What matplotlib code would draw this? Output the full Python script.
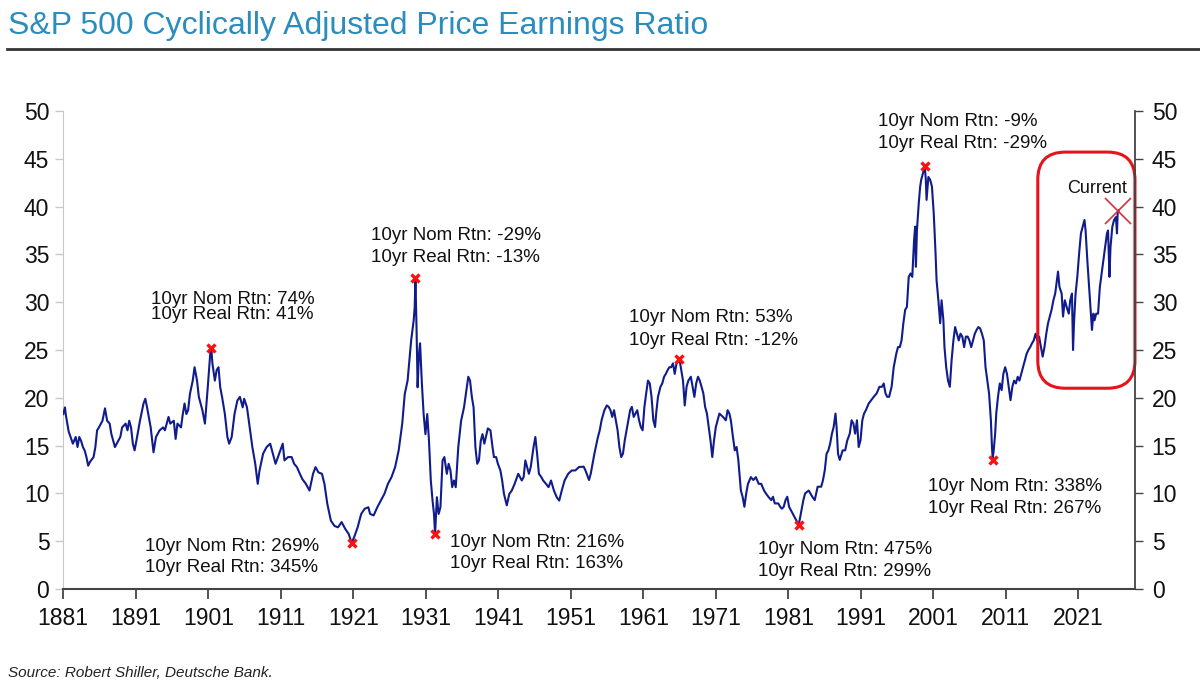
import matplotlib
matplotlib.use('Agg')
import matplotlib.pyplot as plt
from matplotlib.patches import FancyBboxPatch
import numpy as np

plt.rcParams['font.family'] = ['Liberation Sans', 'DejaVu Sans']

# CAPE series (year, ratio)
years = [
    1881.0, 1881.24, 1881.34, 1881.74, 1882.33, 1882.72, 1882.97, 1883.21, 1883.46, 1883.71,
    1883.95, 1884.2, 1884.44, 1884.69, 1885.18, 1885.43, 1885.67, 1885.92, 1886.41, 1886.76,
    1887.05, 1887.4, 1887.64, 1888.13, 1888.38, 1888.87, 1889.12, 1889.61, 1889.86, 1890.1,
    1890.35, 1890.6, 1890.84, 1891.09, 1891.58, 1892.07, 1892.32, 1892.56, 1893.06, 1893.45,
    1893.79, 1894.29, 1894.78, 1895.02, 1895.52, 1895.76, 1896.25, 1896.5, 1896.75, 1897.24,
    1897.49, 1897.73, 1897.98, 1898.22, 1898.47, 1898.86, 1899.11, 1899.45, 1899.7, 1900.19,
    1900.54, 1900.93, 1901.27, 1901.42, 1901.57, 1901.91, 1902.16, 1902.41, 1902.65, 1902.9,
    1903.29, 1903.64, 1903.88, 1904.23, 1904.62, 1905.01, 1905.36, 1905.75, 1905.95, 1906.34,
    1906.59, 1907.08, 1907.48, 1907.82, 1908.07, 1908.56, 1909.05, 1909.54, 1910.03, 1910.28,
    1910.77, 1911.27, 1911.51, 1912.0, 1912.5, 1912.84, 1913.23, 1913.63, 1913.97, 1914.46,
    1914.96, 1915.45, 1915.79, 1916.19, 1916.68, 1917.02, 1917.42, 1917.91, 1918.4, 1918.89,
    1919.39, 1919.88, 1920.37, 1920.76, 1921.11, 1921.6, 1922.09, 1922.58, 1923.08, 1923.32,
    1923.81, 1924.31, 1924.8, 1925.29, 1925.78, 1926.27, 1926.77, 1927.26, 1927.75, 1928.1,
    1928.49, 1928.98, 1929.33, 1929.47, 1929.57, 1929.72, 1929.87, 1930.06, 1930.21, 1930.46,
    1930.7, 1930.95, 1931.2, 1931.44, 1931.69, 1931.93, 1932.13, 1932.28, 1932.53, 1932.77,
    1933.02, 1933.31, 1933.56, 1933.9, 1934.15, 1934.4, 1934.64, 1934.89, 1935.13, 1935.48,
    1935.87, 1936.27, 1936.61, 1936.86, 1937.1, 1937.35, 1937.59, 1937.84, 1938.09, 1938.33,
    1938.58, 1938.82, 1939.07, 1939.56, 1939.91, 1940.2, 1940.4, 1940.7, 1940.94, 1941.29,
    1941.53, 1941.78, 1942.17, 1942.52, 1942.86, 1943.25, 1943.75, 1944.24, 1944.49, 1944.73,
    1945.22, 1945.47, 1945.86, 1946.11, 1946.35, 1946.6, 1946.94, 1947.19, 1947.58, 1947.93,
    1948.27, 1948.67, 1949.06, 1949.4, 1949.75, 1950.14, 1950.64, 1951.13, 1951.62, 1952.11,
    1952.77, 1953.02, 1953.51, 1953.76, 1954.25, 1954.74, 1954.99, 1955.24, 1955.63, 1955.97,
    1956.22, 1956.47, 1956.71, 1956.96, 1957.21, 1957.45, 1957.7, 1957.95, 1958.19, 1958.44,
    1958.93, 1959.18, 1959.42, 1959.67, 1959.92, 1960.16, 1960.41, 1960.65, 1960.9, 1961.15,
    1961.39, 1961.64, 1961.89, 1962.13, 1962.38, 1962.62, 1962.77, 1963.02, 1963.36, 1963.61,
    1963.86, 1964.1, 1964.35, 1964.6, 1964.84, 1965.09, 1965.33, 1965.58, 1965.83, 1965.97,
    1966.17, 1966.47, 1966.71, 1966.96, 1967.21, 1967.55, 1967.8, 1968.04, 1968.29, 1968.54,
    1968.78, 1969.03, 1969.28, 1969.52, 1969.77, 1970.01, 1970.26, 1970.51, 1970.75, 1971.0,
    1971.25, 1971.49, 1971.98, 1972.38, 1972.62, 1972.87, 1973.07, 1973.36, 1973.61, 1973.86,
    1974.1, 1974.45, 1974.69, 1974.94, 1975.19, 1975.43, 1975.83, 1976.17, 1976.52, 1976.91,
    1977.26, 1977.65, 1977.9, 1978.24, 1978.64, 1978.88, 1979.13, 1979.62, 1979.87, 1980.11,
    1980.36, 1980.61, 1980.85, 1981.1, 1981.34, 1981.59, 1981.84, 1982.08, 1982.43, 1982.72,
    1983.07, 1983.31, 1983.81, 1984.3, 1984.64, 1985.04, 1985.53, 1985.78, 1986.02, 1986.27,
    1986.52, 1986.76, 1987.01, 1987.25, 1987.5, 1987.65, 1987.85, 1988.09, 1988.49, 1988.83,
    1989.13, 1989.47, 1989.72, 1989.97, 1990.21, 1990.46, 1990.7, 1990.95, 1991.2, 1991.44,
    1991.69, 1992.08, 1992.43, 1992.77, 1993.17, 1993.56, 1993.91, 1994.15, 1994.4, 1994.64,
    1994.89, 1995.24, 1995.53, 1995.88, 1996.12, 1996.37, 1996.61, 1996.86, 1997.11, 1997.35,
    1997.6, 1997.85, 1998.09, 1998.34, 1998.49, 1998.59, 1998.73, 1998.98, 1999.18, 1999.32,
    1999.57, 1999.82, 1999.96, 2000.06, 2000.31, 2000.56, 2000.8, 2001.05, 2001.3, 2001.44,
    2001.69, 2001.94, 2002.13, 2002.38, 2002.53, 2002.77, 2003.02, 2003.27, 2003.51, 2003.76,
    2004.0, 2004.25, 2004.5, 2004.74, 2004.99, 2005.24, 2005.48, 2005.73, 2005.97, 2006.22,
    2006.47, 2006.71, 2006.96, 2007.21, 2007.45, 2007.7, 2007.95, 2008.19, 2008.44, 2008.68,
    2008.93, 2009.08, 2009.18, 2009.32, 2009.52, 2009.67, 2009.91, 2010.16, 2010.41, 2010.65,
    2010.9, 2011.15, 2011.39, 2011.64, 2011.89, 2012.13, 2012.38, 2012.63, 2012.87, 2013.12,
    2013.36, 2013.61, 2013.86, 2014.1, 2014.35, 2014.6, 2014.84, 2015.09, 2015.33, 2015.58,
    2015.83, 2016.07, 2016.32, 2016.57, 2016.81, 2017.06, 2017.3, 2017.55, 2017.8, 2018.04,
    2018.19, 2018.39, 2018.69, 2018.88, 2019.13, 2019.38, 2019.67, 2019.87, 2020.11, 2020.26,
    2020.41, 2020.61, 2020.85, 2021.1, 2021.35, 2021.59, 2021.84, 2021.99, 2022.23, 2022.48,
    2022.72, 2022.87, 2023.07, 2023.22, 2023.46, 2023.71, 2023.96, 2024.2, 2024.45, 2024.69,
    2024.94, 2025.09, 2025.28, 2025.43, 2025.68, 2025.92, 2026.17, 2026.32, 2026.41, 2026.56,
]
cape = [
    18.3, 19.0, 18.3, 16.5, 15.2, 15.9, 14.85, 15.9, 15.5, 14.85,
    14.5, 13.8, 12.9, 13.3, 13.8, 14.85, 16.6, 16.9, 17.6, 18.9,
    17.6, 17.3, 16.2, 14.85, 15.2, 15.9, 16.9, 17.3, 16.6, 17.6,
    16.9, 15.2, 14.5, 15.5, 17.6, 19.4, 19.9, 19.0, 16.9, 14.3,
    15.9, 16.6, 16.9, 16.6, 18.0, 17.3, 17.6, 15.7, 17.3, 16.9,
    18.3, 19.4, 18.3, 18.7, 20.4, 21.8, 23.2, 21.8, 20.1, 18.7,
    17.3, 21.1, 24.6, 25.2, 23.6, 21.8, 22.9, 23.2, 21.1, 20.1,
    18.3, 15.9, 15.2, 15.9, 18.3, 19.7, 20.1, 19.0, 19.9, 19.0,
    17.6, 14.85, 13.1, 11.0, 12.4, 14.15, 14.85, 15.2, 13.8, 13.1,
    14.15, 15.2, 13.45, 13.8, 13.8, 13.1, 12.75, 12.05, 11.5, 11.0,
    10.3, 12.05, 12.75, 12.2, 12.05, 11.0, 8.9, 7.15, 6.6, 6.45,
    7.0, 6.3, 5.75, 4.85, 5.4, 6.45, 7.85, 8.4, 8.55, 7.85,
    7.7, 8.55, 9.25, 9.95, 11.0, 11.7, 12.75, 14.5, 17.3, 20.4,
    21.8, 26.0, 28.1, 29.5, 32.5, 27.4, 21.1, 24.6, 25.7, 21.5,
    18.3, 16.2, 18.3, 15.5, 11.35, 9.25, 7.85, 5.75, 9.6, 7.85,
    8.55, 13.45, 13.8, 12.05, 13.1, 12.4, 10.65, 11.35, 10.65, 14.85,
    17.6, 19.0, 20.8, 22.2, 21.8, 20.1, 19.0, 14.85, 13.1, 13.45,
    15.5, 16.2, 15.2, 16.8, 16.6, 14.85, 13.8, 13.8, 13.1, 12.4,
    11.35, 9.95, 8.75, 9.95, 10.3, 11.0, 12.05, 11.35, 11.7, 13.45,
    12.05, 12.75, 14.85, 15.9, 14.15, 12.05, 11.7, 11.35, 11.0, 10.65,
    11.35, 10.3, 9.6, 9.25, 10.3, 11.35, 12.05, 12.4, 12.4, 12.75,
    12.8, 12.4, 11.4, 12.1, 14.15, 15.9, 16.6, 17.65, 18.7, 19.2,
    19.05, 18.7, 18.0, 18.7, 17.65, 16.6, 14.85, 13.8, 14.15, 15.55,
    17.65, 18.7, 19.05, 18.0, 18.35, 18.7, 17.65, 16.95, 16.6, 19.05,
    20.45, 21.8, 21.5, 20.1, 17.65, 16.95, 18.35, 20.1, 21.15, 21.5,
    22.2, 22.5, 22.9, 23.2, 23.2, 23.6, 22.5, 23.6, 23.8, 24.1,
    23.2, 21.8, 19.2, 21.15, 21.8, 22.2, 21.15, 20.1, 21.5, 22.2,
    21.8, 21.15, 20.45, 19.05, 18.35, 16.95, 15.55, 13.8, 15.55, 16.95,
    17.65, 18.35, 18.0, 17.65, 18.7, 18.35, 17.65, 15.9, 14.5, 14.85,
    13.5, 10.3, 9.65, 8.6, 10.0, 11.0, 11.7, 11.4, 11.7, 11.0,
    11.0, 10.3, 10.0, 9.65, 9.3, 9.65, 8.95, 8.95, 8.6, 8.4,
    8.6, 9.3, 9.65, 8.6, 8.25, 7.9, 7.55, 7.2, 6.7, 7.9,
    9.3, 10.0, 10.3, 9.65, 9.3, 10.7, 10.7, 11.4, 12.4, 14.15,
    14.5, 15.2, 16.25, 16.95, 18.35, 16.95, 14.15, 13.5, 14.5, 14.5,
    15.55, 16.25, 17.65, 17.3, 16.25, 17.65, 14.85, 15.55, 17.65, 18.35,
    18.7, 19.4, 19.75, 20.1, 20.45, 21.15, 21.15, 21.5, 20.45, 20.1,
    20.1, 21.15, 23.2, 24.6, 25.3, 25.3, 26.0, 27.8, 29.2, 29.5,
    32.65, 33.0, 32.65, 36.5, 37.9, 33.7, 37.5, 40.3, 42.1, 42.8,
    43.5, 44.2, 42.8, 40.7, 43.1, 42.8, 42.1, 39.3, 35.1, 32.3,
    30.2, 27.8, 30.2, 28.1, 25.3, 23.2, 21.8, 21.15, 23.9, 26.0,
    27.4, 26.7, 26.0, 26.7, 26.4, 25.3, 26.4, 26.4, 26.0, 25.3,
    26.0, 26.7, 27.1, 27.4, 27.25, 26.7, 26.0, 23.2, 21.8, 20.45,
    17.65, 14.85, 13.65, 14.5, 16.25, 18.35, 20.1, 21.5, 20.8, 22.5,
    23.2, 22.5, 21.15, 19.75, 21.15, 21.8, 21.5, 22.2, 21.8, 22.5,
    23.2, 23.9, 24.6, 25.0, 25.3, 25.7, 26.0, 26.7, 26.0, 26.4,
    25.3, 24.3, 25.3, 26.7, 27.8, 28.5, 29.2, 30.2, 30.9, 32.3,
    33.2, 31.6, 30.9, 28.5, 30.2, 29.5, 28.8, 30.2, 30.9, 25.0,
    28.1, 30.9, 32.65, 35.1, 37.2, 37.9, 38.6, 37.5, 34.4, 31.6,
    28.8, 27.1, 28.8, 28.1, 28.8, 28.8, 31.6, 33.0, 34.4, 35.8,
    37.2, 37.5, 32.65, 35.8, 37.9, 38.6, 38.9, 37.2, 39.3, 39.6,
]

# marked turning points
mark_years = [1901.42, 1920.76, 1929.57, 1932.28, 1965.97, 1982.43, 1999.82, 2009.18]
mark_values = [25.2, 4.85, 32.5, 5.75, 24.1, 6.7, 44.2, 13.5]
nom_labels = ['10yr Nom Rtn: 74%', '10yr Nom Rtn: 269%', '10yr Nom Rtn: -29%',
              '10yr Nom Rtn: 216%', '10yr Nom Rtn: 53%', '10yr Nom Rtn: 475%',
              '10yr Nom Rtn: -9%', '10yr Nom Rtn: 338%']
real_labels = ['10yr Real Rtn: 41%', '10yr Real Rtn: 345%', '10yr Real Rtn: -13%',
               '10yr Real Rtn: 163%', '10yr Real Rtn: -12%', '10yr Real Rtn: 299%',
               '10yr Real Rtn: -29%', '10yr Real Rtn: 267%']
current_year = 2026.5
current_value = 39.5

x_ticks = list(range(1881, 2022, 10))
y_ticks = list(range(0, 51, 5))

# label placement (x left edge, y of first line, y of second line)
label_pos = [(1893.1, 30.3, 28.7), (1892.3, 4.4, 2.2), (1923.4, 37.0, 34.7),
             (1934.4, 4.9, 2.65), (1959.0, 28.4, 26.0), (1976.8, 4.15, 1.8),
             (1993.3, 48.9, 46.6), (2000.2, 10.7, 8.45)]

fig = plt.figure(figsize=(12, 6.91), dpi=100)
ax = fig.add_axes([0.0527, 0.1476, 0.8931, 0.6918])

ax.plot(years, cape, color='#101c8c', linewidth=1.5, zorder=3)
ax.plot(mark_years, mark_values, linestyle='none', marker='x', color='#ff1010',
        markersize=5.5, markeredgewidth=2.4, zorder=4)
ax.plot([current_year], [current_value], linestyle='none', marker='x', color='#d8303c',
        markersize=19, markeredgewidth=1.2, zorder=5, clip_on=False)

for (lx, y1, y2), t1, t2 in zip(label_pos, nom_labels, real_labels):
    ax.text(lx, y1, t1, fontsize=13.5, ha='left', va='center', color='#111111')
    ax.text(lx, y2, t2, fontsize=13.5, ha='left', va='center', color='#111111')
ax.text(2027.7, 41.9, 'Current', fontsize=13, ha='right', va='center', color='#111111')

# red rounded box around the recent run-up
box = FancyBboxPatch((2015.4, 21.0), 13.4, 24.7,
                     boxstyle='round,pad=0,rounding_size=3.8',
                     mutation_aspect=7.25 / 9.56,
                     fill=False, edgecolor='#e8121c', linewidth=2.2,
                     clip_on=False, zorder=6)
ax.add_patch(box)

ax.set_xlim(1881, 2028.8)
ax.set_ylim(0, 50)
ax.set_xticks(x_ticks)
ax.set_yticks(y_ticks)
ax.tick_params(axis='x', direction='out', length=7, width=1.3, color='#444444',
               labelsize=16.5, pad=6, labelcolor='#111111')
ax.tick_params(axis='y', direction='out', length=6, width=1.0, color='#c8c8c8',
               labelsize=16.5, pad=4, labelcolor='#111111')
ax.spines['top'].set_visible(False)
ax.spines['right'].set_visible(False)
ax.spines['left'].set_color('#c8c8c8')
ax.spines['bottom'].set_color('#444444')
ax.spines['bottom'].set_linewidth(1.5)

ax2 = ax.twinx()
ax2.set_ylim(0, 50)
ax2.set_yticks(y_ticks)
ax2.tick_params(axis='y', direction='out', length=6, width=1.0, color='#444444',
                labelsize=16.5, pad=6, labelcolor='#111111')
for s in ['top', 'left', 'bottom']:
    ax2.spines[s].set_visible(False)
ax2.spines['right'].set_color('#444444')
ax2.spines['right'].set_linewidth(1.3)

fig.text(0.007, 0.962, 'S&P 500 Cyclically Adjusted Price Earnings Ratio',
         fontsize=23, color='#2b8cbe', ha='left', va='center')
fig.add_artist(plt.Line2D([0.006, 1.0], [0.929, 0.929], transform=fig.transFigure,
                          color='#333333', linewidth=2))
fig.text(0.007, 0.026, 'Source: Robert Shiller, Deutsche Bank.', fontsize=11,
         style='italic', color='#222222', ha='left', va='center')

fig.savefig('out.png', dpi=100)
